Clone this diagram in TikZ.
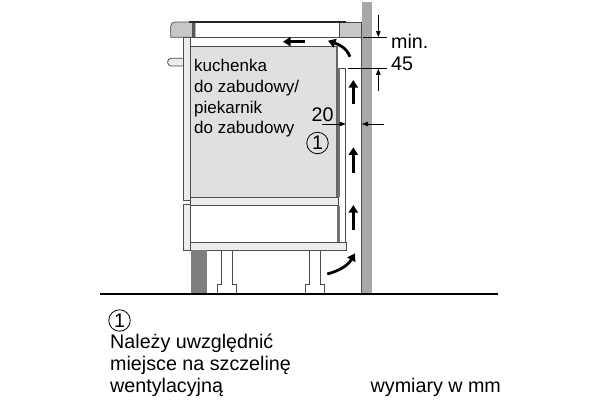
\documentclass[tikz,border=0pt]{standalone}
\usepackage{fontspec}
\setmainfont{Liberation Sans}
\usetikzlibrary{arrows.meta}
\tikzset{
 lbl/.style={inner sep=0pt,anchor=base west,font=\fontsize{17}{20}\selectfont},
 lblb/.style={inner sep=0pt,anchor=base west,font=\fontsize{19.7}{22}\selectfont},
 edge/.style={draw=black!70,line width=0.8pt},
 flow/.style={line width=2.8pt,-{Triangle[length=7.5pt,width=9pt]}},
 dim/.style={line width=0.7pt,-{Triangle[length=6pt,width=4.5pt]}},
 tick/.style={line width=0.9pt},
 num/.style={circle,draw,line width=0.8pt,minimum size=21.5pt,inner sep=0pt,font=\fontsize{19.7}{22}\selectfont}
}
\definecolor{wallc}{HTML}{A8A8A8}
\definecolor{topc}{HTML}{C8C8C8}
\definecolor{ovenc}{HTML}{E0E0E0}
\definecolor{lightc}{HTML}{EDEDED}
\definecolor{plinth}{HTML}{7E7E7E}
\begin{document}
\begin{tikzpicture}[x=1pt,y=-1pt]
\useasboundingbox (0,0) rectangle (600,400);
% wall
\fill[wallc] (361.5,2) rectangle (371.5,293);
\draw[black!70,line width=0.6pt] (361.5,37) -- (361.5,293);
% worktop
\filldraw[fill=topc,draw=black!70,line width=0.7pt] (195,22) -- (175,22) to[out=180,in=90] (170.7,26) -- (170.7,37.3) -- (195,37.3) -- cycle;
\fill[black!65] (192,22) rectangle (195,37.3);
\filldraw[fill=topc,draw=black!70,line width=0.7pt] (339,22) rectangle (361.5,37.3);
\draw[line width=1.2pt,black!85] (189,22) -- (346,22);
\draw[edge] (183,37.3) -- (361.5,37.3);
% handle
\filldraw[fill=lightc,edge] (183,58.3) -- (171,58.3) to[out=180,in=180,looseness=1.5] (171,66) -- (183,66);
% front panels
\filldraw[fill=lightc,edge] (183,37.3) rectangle (190.7,200);
\filldraw[fill=lightc,edge] (183,204) rectangle (190.7,250);
% oven
\filldraw[fill=ovenc,edge] (190.7,46) rectangle (337,197);
\fill[black!60] (336,46) rectangle (338.3,197);
\filldraw[fill=lightc,edge] (190.7,197.3) rectangle (338.3,205.7);
\draw[line width=1pt,black!85] (190.7,205.7) -- (338.3,205.7);
\draw[edge,fill=white] (190.7,205.7) rectangle (337.7,242.7);
% side panel
\filldraw[fill=white,edge] (338.3,68.3) rectangle (345.7,242.7);
\fill[black!55] (338.3,68.3) rectangle (340,197);
\fill[black!55] (337,205.7) rectangle (339.5,242.7);
\filldraw[fill=lightc,edge] (190.7,242.7) rectangle (346,250);
% plinth and feet
\fill[plinth] (190.7,250) rectangle (206.7,293);
\draw[edge] (221.3,250) -- (221.3,284.7) -- (217.3,284.7) -- (217.3,293);
\draw[edge] (232.3,250) -- (232.3,284.7) -- (236.7,284.7) -- (236.7,293);
\draw[edge] (309,250) -- (309,284.7) -- (305.3,284.7) -- (305.3,293);
\draw[edge] (320.7,250) -- (320.7,284.7) -- (324.3,284.7) -- (324.3,293);
% ground
\coordinate (g1) at (100,293.7);
\coordinate (g2) at (498,293.7);
\draw[line width=1.8pt] (g1) -- (g2);
% flow arrows
\coordinate (a1s) at (305,41.7); \coordinate (a1e) at (283,41.7);
\coordinate (a2s) at (350,56.7); \coordinate (a2e) at (328,40.7);
\coordinate (a3s) at (353.3,104); \coordinate (a3e) at (353.3,80);
\coordinate (a4s) at (353.3,172.7); \coordinate (a4e) at (353.3,147.3);
\coordinate (a5s) at (353.3,230); \coordinate (a5e) at (353.3,205);
\coordinate (a6s) at (327.3,274); \coordinate (a6e) at (355,253.3);
\draw[flow] (a1s) -- (a1e);
\draw[flow] (a2s) to[out=112,in=-20] (a2e);
\draw[flow] (a3s) -- (a3e);
\draw[flow] (a4s) -- (a4e);
\draw[flow] (a5s) -- (a5e);
\draw[flow] (a6s) to[out=15,in=-120] (a6e);
% dimensions
\coordinate (t1a) at (363,37.5); \coordinate (t1b) at (387,37.5);
\coordinate (t2a) at (348.3,68.3); \coordinate (t2b) at (386.7,68.3);
\draw[tick] (t1a) -- (t1b);
\draw[tick] (t2a) -- (t2b);
\coordinate (d1s) at (378.3,15); \coordinate (d1e) at (378.3,37);
\coordinate (d2s) at (378.3,90.7); \coordinate (d2e) at (378.3,68.8);
\coordinate (d3s) at (322,124); \coordinate (d3e) at (345.7,124);
\coordinate (d4s) at (384,124); \coordinate (d4e) at (362,124);
\draw[dim] (d1s) -- (d1e);
\draw[dim] (d2s) -- (d2e);
\draw[dim] (d3s) -- (d3e);
\draw[dim] (d4s) -- (d4e);
% text
\node[lbl] (t1) at (194,71) {kuchenka};
\node[lbl] (t2) at (194,92) {do zabudowy/};
\node[lbl] (t3) at (194,113) {piekarnik};
\node[lbl] (t4) at (194,133) {do zabudowy};
\node[lblb] (t20) at (311.5,121) {20};
\node[lblb] (tmin) at (391,48) {min.};
\node[lblb] (t45) at (391,70) {45};
\node[num] (c1) at (317.5,143) {1};
\node[num] (c2) at (119.5,320.5) {1};
\node[lblb] (b1) at (110,348) {Należy uwzględnić};
\node[lblb] (b2) at (110,370.5) {miejsce na szczelinę};
\node[lblb] (b3) at (110,392.7) {wentylacyjną};
\node[lblb] (b4) at (370.5,392.7) {wymiary w mm};
\end{tikzpicture}
\end{document}
